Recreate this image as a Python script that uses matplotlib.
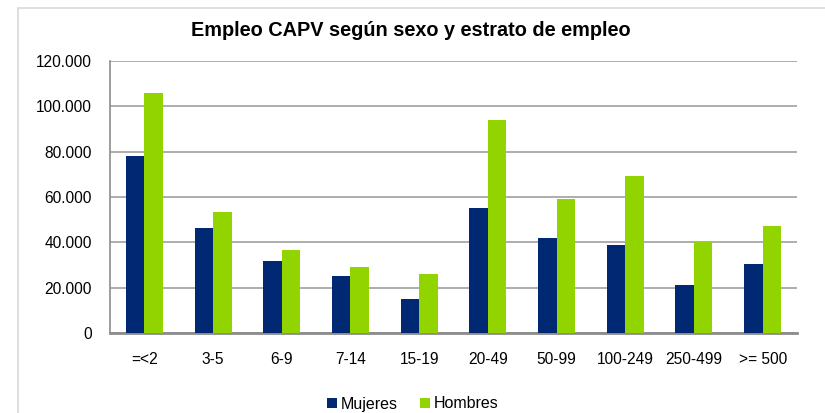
import numpy as np
import matplotlib.pyplot as plt
from matplotlib.patches import Rectangle
from matplotlib.ticker import FuncFormatter

plt.rcParams["font.family"] = ["Liberation Sans", "DejaVu Sans"]

# ============================================================
# DATA
# ============================================================

estratos = ["=<2", "3-5", "6-9", "7-14", "15-19", "20-49",
            "50-99", "100-249", "250-499", ">= 500"]
mujeres = [78200, 46500, 31700, 25000, 15100, 55100, 41800, 38700, 21300, 30400]
hombres = [105800, 53500, 36600, 28900, 26200, 93900, 59000, 69200, 40100, 47100]

color_mujeres = "#002873"
color_hombres = "#92D400"

# ============================================================
# PLOT
# ============================================================

fig = plt.figure(figsize=(8.25, 4.13), dpi=100)
ax = fig.add_axes([110 / 825, 1 - 333 / 413, 687 / 825, 272 / 413])

x = np.arange(len(estratos))
w = 0.27

ax.bar(x - w / 2, mujeres, width=w, color=color_mujeres, label="Mujeres", zorder=3)
ax.bar(x + w / 2, hombres, width=w, color=color_hombres, label="Hombres", zorder=3)

ax.set_xlim(-0.5, len(estratos) - 0.5)
ax.set_ylim(0, 120000)
ax.set_yticks(np.arange(0, 120001, 20000))
ax.yaxis.set_major_formatter(
    FuncFormatter(lambda v, p: f"{int(v):,}".replace(",", "."))
)
ax.set_xticks(x)
ax.set_xticklabels(estratos)
ax.tick_params(axis="both", length=0, labelsize=11.2, colors="black")
ax.tick_params(axis="x", pad=14)
ax.tick_params(axis="y", pad=13)

ax.grid(axis="y", color="#a0a0a0", linewidth=1.2, zorder=0)
for s in ["top", "right"]:
    ax.spines[s].set_visible(False)
ax.spines["left"].set_color("#8c8c8c")
ax.spines["left"].set_linewidth(1.2)
ax.spines["bottom"].set_color("#8c8c8c")
ax.spines["bottom"].set_linewidth(2)

fig.text(0.498, 1 - 30 / 413, "Empleo CAPV según sexo y estrato de empleo",
         ha="center", va="center", fontsize=14.3, fontweight="bold")

fig.legend(loc="center", bbox_to_anchor=(0.5, 1 - 404 / 413), ncol=2,
           frameon=False, fontsize=11.5, handlelength=0.65, handleheight=0.65,
           handletextpad=0.2, columnspacing=1.4)

# outer chart frame
fig.patches.append(Rectangle((18 / 825, -0.05), 1.0, 1 - 8 / 413 + 0.05,
                             transform=fig.transFigure, fill=False,
                             edgecolor="#d9d9d9", linewidth=1.2))

fig.savefig("out.png", dpi=100)
